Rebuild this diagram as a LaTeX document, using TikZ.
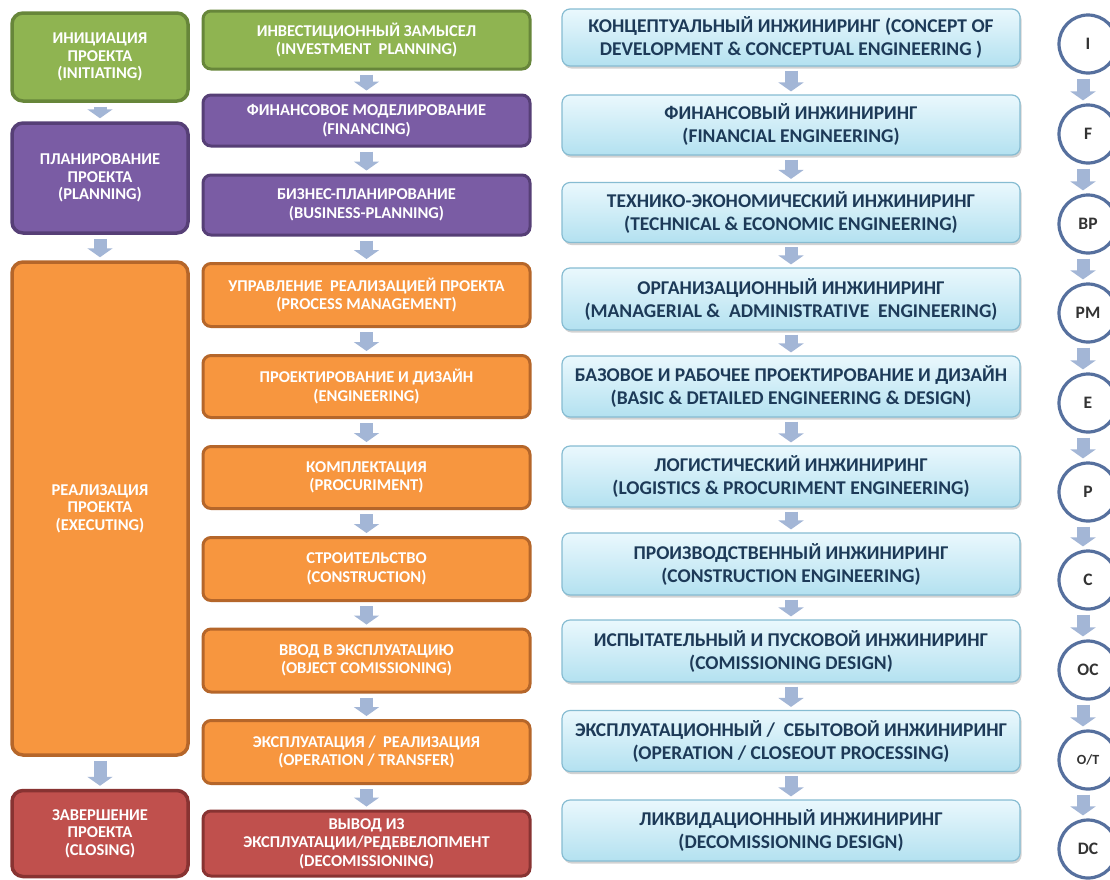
\documentclass[tikz,border=0pt]{standalone}
\usepackage{fontspec}
\setmainfont{Carlito}
\usetikzlibrary{arrows.meta,shadows}

\definecolor{gfill}{HTML}{8FB451}
\definecolor{gdraw}{HTML}{67863A}
\definecolor{pfill}{HTML}{7A5CA4}
\definecolor{pdraw}{HTML}{563F76}
\definecolor{ofill}{HTML}{F7963F}
\definecolor{odraw}{HTML}{B5662A}
\definecolor{rfill}{HTML}{C0504D}
\definecolor{rdraw}{HTML}{883332}
\definecolor{btop}{HTML}{EAF8FD}
\definecolor{bbot}{HTML}{B3E1F0}
\definecolor{bdraw}{HTML}{86BCD2}
\definecolor{btext}{HTML}{1D3A58}
\definecolor{arrowc}{HTML}{A3B6D6}
\definecolor{ringc}{HTML}{56709E}

\tikzset{
  phase/.style={rounded corners=11pt, line width=3.5pt, text=white, align=center,
    inner sep=0pt, font=\bfseries\fontsize{16.5}{17.5}\selectfont,
    minimum width=176pt},
  stage/.style={rounded corners=8pt, line width=3pt, text=white, align=center,
    inner sep=0pt, font=\bfseries\fontsize{16.5}{18.5}\selectfont,
    minimum width=327pt},
  eng/.style={rounded corners=8pt, line width=1.2pt, draw=bdraw,
    top color=btop, bottom color=bbot, text=btext, align=center, inner sep=0pt,
    font=\bfseries\fontsize{19.5}{23}\selectfont, minimum width=458pt,
    drop shadow={shadow xshift=1.5pt, shadow yshift=-2.5pt, opacity=0.35}},
  ring/.style={circle, draw=ringc, line width=3.2pt, fill=white, text=black!80,
    minimum size=58pt, inner sep=0pt, font=\bfseries\fontsize{17.5}{20}\selectfont},
  gbox/.style={fill=gfill, draw=gdraw},
  pbox/.style={fill=pfill, draw=pdraw},
  obox/.style={fill=ofill, draw=odraw},
  rbox/.style={fill=rfill, draw=rdraw},
  flow/.style={draw=arrowc, line width=13pt,
    -{Triangle[width=25pt,length=9pt]},
    shorten <=4pt, shorten >=3pt},
}

\begin{document}
\begin{tikzpicture}[x=1pt,y=-1pt]
\useasboundingbox (0,0) rectangle (1110,879);
\fill[white] (0,0) rectangle (1110,879);

% project phases
\node[phase,gbox,minimum height=88pt]  (init)  at (100,57)    {ИНИЦИАЦИЯ\\ПРОЕКТА\\(INITIATING)};
\node[phase,pbox,minimum height=110pt] (plan)  at (100,178)   {ПЛАНИРОВАНИЕ\\ПРОЕКТА\\(PLANNING)};
\node[phase,obox,minimum height=493pt] (exec)  at (100,508.5) {РЕАЛИЗАЦИЯ\\ПРОЕКТА\\(EXECUTING)};
\node[phase,rbox,minimum height=86pt]  (close) at (100,833.5) {ЗАВЕРШЕНИЕ\\ПРОЕКТА\\(CLOSING)};

% life-cycle stages
\node[stage,gbox,minimum height=58pt] (s1)  at (366.5,40)    {ИНВЕСТИЦИОННЫЙ ЗАМЫСЕЛ\\(INVESTMENT~~PLANNING)};
\node[stage,pbox,minimum height=51pt] (s2)  at (366.5,120.5) {ФИНАНСОВОЕ МОДЕЛИРОВАНИЕ\\(FINANCING)};
\node[stage,pbox,minimum height=60pt] (s3)  at (366.5,205)   {БИЗНЕС-ПЛАНИРОВАНИЕ\\(BUSINESS-PLANNING)};
\node[stage,obox,minimum height=63pt] (s4)  at (366.5,295)   {УПРАВЛЕНИЕ~~РЕАЛИЗАЦИЕЙ ПРОЕКТА\\(PROCESS MANAGEMENT)};
\node[stage,obox,minimum height=62pt] (s5)  at (366.5,386.5) {ПРОЕКТИРОВАНИЕ И ДИЗАЙН\\(ENGINEERING)};
\node[stage,obox,minimum height=62pt] (s6)  at (366.5,477.5) {КОМПЛЕКТАЦИЯ\\(PROCURIMENT)};
\node[stage,obox,minimum height=63pt] (s7)  at (366.5,569)   {СТРОИТЕЛЬСТВО\\(CONSTRUCTION)};
\node[stage,obox,minimum height=63pt] (s8)  at (366.5,660.5) {ВВОД В ЭКСПЛУАТАЦИЮ\\(OBJECT COMISSIONING)};
\node[stage,obox,minimum height=63pt] (s9)  at (366.5,752)   {ЭКСПЛУАТАЦИЯ /~~РЕАЛИЗАЦИЯ\\(OPERATION / TRANSFER)};
\node[stage,rbox,minimum height=65pt] (s10) at (366.5,843.5) {ВЫВОД ИЗ\\ЭКСПЛУАТАЦИИ/РЕДЕВЕЛОПМЕНТ\\(DECOMISSIONING)};

% engineering types
\node[eng,minimum height=57pt] (e1)  at (791,37.5)  {КОНЦЕПТУАЛЬНЫЙ ИНЖИНИРИНГ (CONCEPT OF\\DEVELOPMENT \& CONCEPTUAL ENGINEERING )};
\node[eng,minimum height=60pt] (e2)  at (791,125)   {ФИНАНСОВЫЙ ИНЖИНИРИНГ\\(FINANCIAL ENGINEERING)};
\node[eng,minimum height=60pt] (e3)  at (791,212.5) {ТЕХНИКО-ЭКОНОМИЧЕСКИЙ ИНЖИНИРИНГ\\(TECHNICAL \& ECONOMIC ENGINEERING)};
\node[eng,minimum height=62pt] (e4)  at (791,299)   {ОРГАНИЗАЦИОННЫЙ ИНЖИНИРИНГ\\(MANAGERIAL \&~~ADMINISTRATIVE~~ENGINEERING)};
\node[eng,minimum height=61pt] (e5)  at (791,386.5) {БАЗОВОЕ И РАБОЧЕЕ ПРОЕКТИРОВАНИЕ И ДИЗАЙН\\(BASIC \& DETAILED ENGINEERING \& DESIGN)};
\node[eng,minimum height=61pt] (e6)  at (791,476.5) {ЛОГИСТИЧЕСКИЙ ИНЖИНИРИНГ\\(LOGISTICS \& PROCURIMENT ENGINEERING)};
\node[eng,minimum height=62pt] (e7)  at (791,564)   {ПРОИЗВОДСТВЕННЫЙ ИНЖИНИРИНГ\\(CONSTRUCTION ENGINEERING)};
\node[eng,minimum height=62pt] (e8)  at (791,651)   {ИСПЫТАТЕЛЬНЫЙ И ПУСКОВОЙ ИНЖИНИРИНГ\\(COMISSIONING DESIGN)};
\node[eng,minimum height=61pt] (e9)  at (791,741)   {ЭКСПЛУАТАЦИОННЫЙ /~~СБЫТОВОЙ ИНЖИНИРИНГ\\(OPERATION / CLOSEOUT PROCESSING)};
\node[eng,minimum height=61pt] (e10) at (791,830.5) {ЛИКВИДАЦИОННЫЙ ИНЖИНИРИНГ\\(DECOMISSIONING DESIGN)};

% stage markers
\node[ring] (c1)  at (1088,44)  {I};
\node[ring] (c2)  at (1088,134) {F};
\node[ring] (c3)  at (1088,224) {BP};
\node[ring] (c4)  at (1088,313) {PM};
\node[ring] (c5)  at (1088,403) {E};
\node[ring] (c6)  at (1088,492) {P};
\node[ring] (c7)  at (1088,580) {C};
\node[ring] (c8)  at (1088,670) {OC};
\node[ring,font=\bfseries\fontsize{14}{16}\selectfont] (c9) at (1088,760) {O/T};
\node[ring] (c10) at (1088,849) {DC};

% flow arrows
\foreach \a/\b in {init/plan, plan/exec, exec/close}
  \draw[flow] (\a.south) -- (\b.north);
\foreach \i [evaluate=\i as \j using int(\i+1)] in {1,...,9}{
  \draw[flow] (s\i.south) -- (s\j.north);
  \draw[flow] (e\i.south) -- (e\j.north);
  \draw[flow] ([xshift=-5pt]c\i.south) -- ([xshift=-5pt]c\j.north);
}
\end{tikzpicture}
\end{document}
